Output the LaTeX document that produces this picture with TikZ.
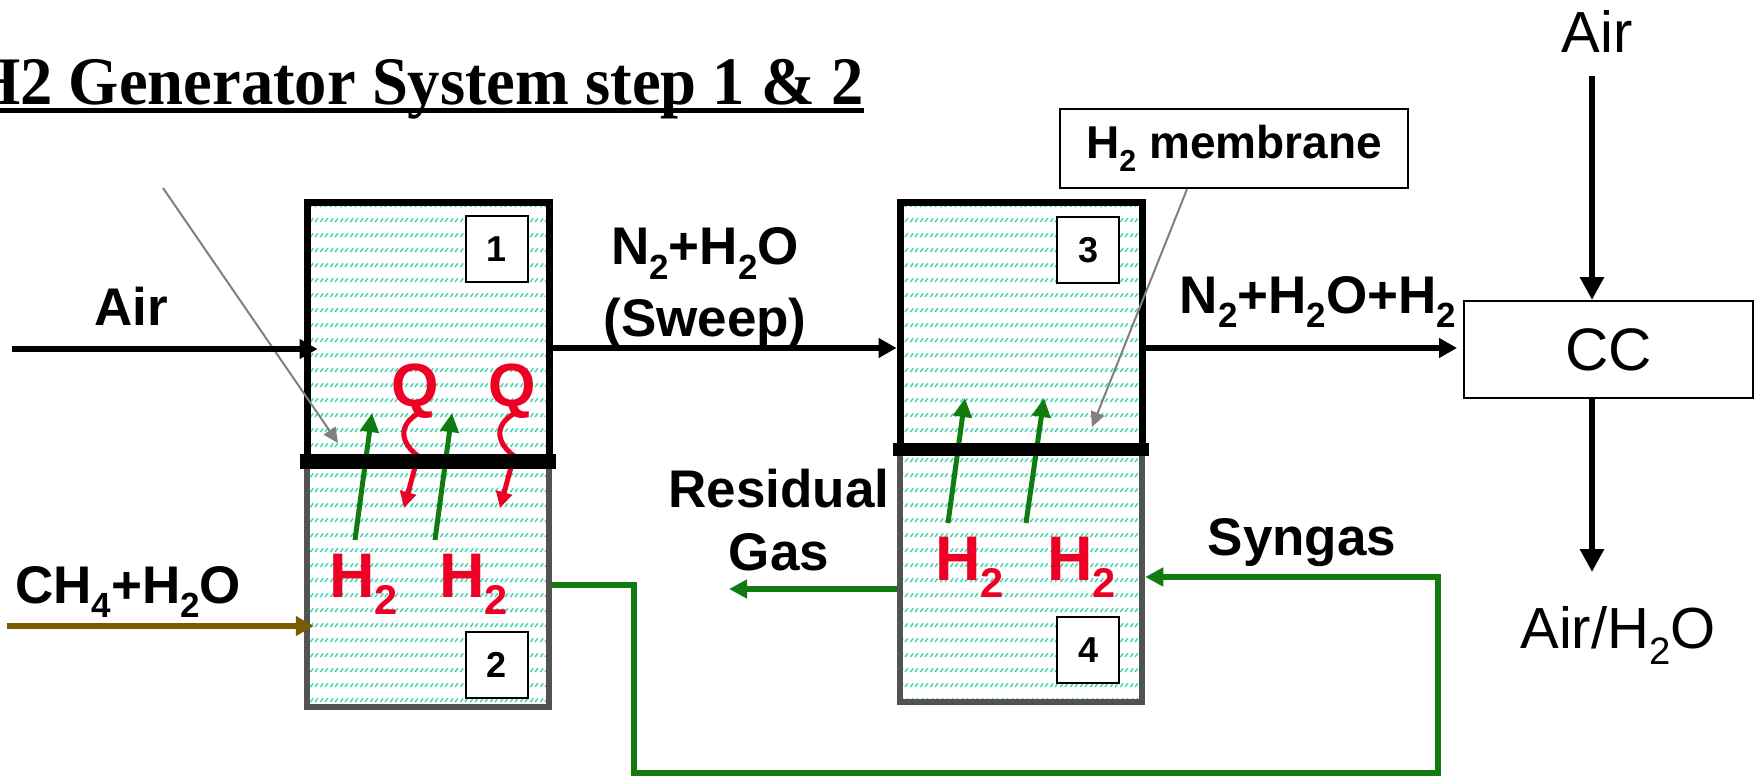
\documentclass[tikz,border=0pt]{standalone}
\usepackage{fontspec}
\setmainfont{Liberation Sans}
\newfontfamily\tnr{Liberation Serif}
\usepackage{graphicx}
\usetikzlibrary{arrows.meta,patterns.meta}

\definecolor{gr}{RGB}{16,124,16}
\definecolor{rd}{RGB}{238,0,36}
\definecolor{ol}{RGB}{122,92,0}
\definecolor{tl}{RGB}{60,212,180}
\definecolor{bx}{RGB}{82,82,82}
\definecolor{gy}{RGB}{128,128,128}

\newcommand\sbt[1]{\raisebox{-0.28em}{\scalebox{0.66}{#1}}}

\tikzdeclarepattern{
  name=tealdash,
  type=uncolored,
  bounding box={(0pt,0pt) and (10pt,15pt)},
  tile size={(10pt,15pt)},
  code={
    \draw[line width=1.5pt] (0.5pt,1pt) -- (3.5pt,5pt);
    \draw[line width=1.5pt] (5.5pt,1pt) -- (8.5pt,5pt);
  }
}

\tikzset{
  lbl/.style={font=\fontsize{53pt}{62pt}\selectfont\bfseries, inner sep=0pt, anchor=base},
  big/.style={font=\fontsize{63pt}{70pt}\selectfont\bfseries, text=rd, inner sep=0pt},
  reg/.style={font=\fontsize{58pt}{66pt}\selectfont, inner sep=0pt, anchor=base},
  upbox/.style={draw=black, line width=7pt, pattern=tealdash, pattern color=tl,
    minimum width=242pt, inner sep=0pt},
  lowbox/.style={draw=bx, line width=6.5pt, pattern=tealdash, pattern color=tl,
    minimum width=242pt, inner sep=0pt},
  numbox/.style={draw=black, line width=2pt, fill=white, minimum width=62pt,
    minimum height=66pt, inner sep=0pt, font=\fontsize{36pt}{36pt}\selectfont\bfseries},
  flow/.style={line width=5.5pt, -{Triangle[length=18pt,width=19pt]}},
  bigflow/.style={line width=6pt, -{Triangle[length=23pt,width=23pt]}},
  gflow/.style={gr, line width=5.5pt, -{Triangle[length=18pt,width=18pt]}},
  h2arrow/.style={gr, line width=5pt, -{Triangle[length=19pt,width=18pt]}},
  qarrow/.style={rd, line width=5pt, -{Triangle[length=16pt,width=16pt]}},
  pointer/.style={gy, line width=2pt, -{Triangle[length=15pt,width=14pt]}},
  band/.style={line width=#1, black},
}

\begin{document}
\begin{tikzpicture}[x=1pt, y=-1pt]
\useasboundingbox (0,0) rectangle (1759,778);
\fill[white] (0,0) rectangle (1759,778);
\clip (0,0) rectangle (1759,778);

% title
\node[anchor=base west, inner sep=0pt] (title) at (-30,105)
  {\tnr\bfseries\fontsize{68pt}{80pt}\selectfont\scalebox{0.95}[1]{H2 Generator System step 1 \& 2}};
\coordinate (ul) at (0,110.5);
\draw[line width=5pt] (ul) -- (title.east |- ul);

% reactor boxes
\node[lowbox, minimum height=249pt] (b2) at (428,582.5) {};
\node[upbox, minimum height=255pt] (b1) at (428,330.5) {};
\node[lowbox, minimum height=256pt] (b4) at (1021,574) {};
\node[upbox, minimum height=243pt] (b3) at (1021,324.5) {};

% number boxes
\node[numbox] (n1) at (497,249) {1};
\node[numbox] (n2) at (497,665) {2};
\node[numbox] (n3) at (1088,250) {3};
\node[numbox] (n4) at (1088,650) {4};

% H2 labels
\node[big, anchor=base west] (h2a) at (329,597) {H\sbt{2}};
\node[big, anchor=base west] (h2b) at (439,597) {H\sbt{2}};
\node[big, anchor=base west] (h2c) at (935,580) {H\sbt{2}};
\node[big, anchor=base west] (h2d) at (1047,580) {H\sbt{2}};

% Q labels
\node[big, anchor=base, font=\fontsize{61pt}{70pt}\selectfont\bfseries] (qa) at (415,406) {Q};
\node[big, anchor=base, font=\fontsize{61pt}{70pt}\selectfont\bfseries] (qb) at (512,406) {Q};

% H2 permeation arrows
\coordinate (ga1) at (355,540); \coordinate (ga2) at (372,413);
\coordinate (gb1) at (435,540); \coordinate (gb2) at (452,413);
\coordinate (gc1) at (948,523); \coordinate (gc2) at (965,398);
\coordinate (gd1) at (1026,523); \coordinate (gd2) at (1044,398);
\draw[h2arrow] (ga1) -- (ga2);
\draw[h2arrow] (gb1) -- (gb2);
\draw[h2arrow] (gc1) -- (gc2);
\draw[h2arrow] (gd1) -- (gd2);

% heat arrows
\coordinate (qa1) at (419,413); \coordinate (qa2) at (418,456); \coordinate (qa3) at (404,508);
\coordinate (qb1) at (515,413); \coordinate (qb2) at (514,456); \coordinate (qb3) at (500,508);
\draw[qarrow] (qa1) .. controls (396,426) and (402,444) .. (qa2) -- (qa3);
\draw[qarrow] (qb1) .. controls (492,426) and (498,444) .. (qb2) -- (qb3);

% membranes (thick bands)
\draw[band=15pt] ([xshift=-3.5pt]b1.south west) -- ([xshift=3.5pt]b1.south east);
\draw[band=13pt] ([xshift=-3.5pt]b3.south west) -- ([xshift=3.5pt]b3.south east);

% pointers
\coordinate (p1s) at (163,188); \coordinate (p1e) at (338,443);
\draw[pointer] (p1s) -- (p1e);
\node[draw=black, line width=2.5pt, minimum width=348pt, minimum height=79pt, inner sep=0pt,
  font=\fontsize{46pt}{50pt}\selectfont\bfseries] (mem) at (1234,148.5) {H\sbt{2} membrane};
\coordinate (p2s) at (1187,0);
\coordinate (p2e) at (1092,427);
\draw[pointer] (mem.south -| p2s) -- (p2e);

% CC
\node[draw=black, line width=2pt, minimum width=289pt, minimum height=97pt, inner sep=0pt,
  font=\fontsize{60pt}{66pt}\selectfont] (cc) at (1608.5,349.5) {CC};

% labels
\node[lbl] (airl) at (131,325) {Air};
\node[lbl, anchor=base west] (ch4) at (15,603) {CH\sbt{4}+H\sbt{2}O};
\node[lbl] (sw1) at (705,265) {N\sbt{2}+H\sbt{2}O};
\node[lbl] (sw2) at (705,336) {(Sweep)};
\node[lbl] (nhh) at (1318,313) {N\sbt{2}+H\sbt{2}O+H\sbt{2}};
\node[lbl] (res1) at (779,507) {Residual};
\node[lbl] (res2) at (779,570) {Gas};
\node[lbl] (syn) at (1302,555) {Syngas};
\node[reg] (airt) at (1597,53) {Air};
\node[reg] (airo) at (1618,648) {Air/H\sbt{2}O};

% main flows
\coordinate (airs) at (12,349);
\draw[flow, shorten >=-14pt] (airs) -- (b1.west |- airs);
\coordinate (chs) at (7,626);
\draw[flow, ol, shorten >=-10pt] (chs) -- (b2.west |- chs);
\coordinate (swy) at (0,348);
\draw[flow] (b1.east |- swy) -- (b3.west |- swy);
\draw[flow] (b3.east |- swy) -- ([xshift=-6pt]cc.west |- swy);

% residual gas
\coordinate (rgy) at (729,589);
\draw[gflow] (b4.west |- rgy) -- (rgy);

% syngas loop
\coordinate (s0) at (0,585);
\coordinate (s1) at (634,585);
\coordinate (s2) at (634,773);
\coordinate (s3) at (1438,773);
\coordinate (s4) at (1438,577);
\draw[gflow] (b2.east |- s0) -- (s1) -- (s2) -- (s3) -- (s4) -- (b4.east |- s4);

% combustion chamber flows
\coordinate (cin) at (1592,76);
\coordinate (cout) at (1592,572);
\draw[bigflow] (cin) -- (cin |- cc.north);
\draw[bigflow] (cin |- cc.south) -- (cout);
\end{tikzpicture}
\end{document}
